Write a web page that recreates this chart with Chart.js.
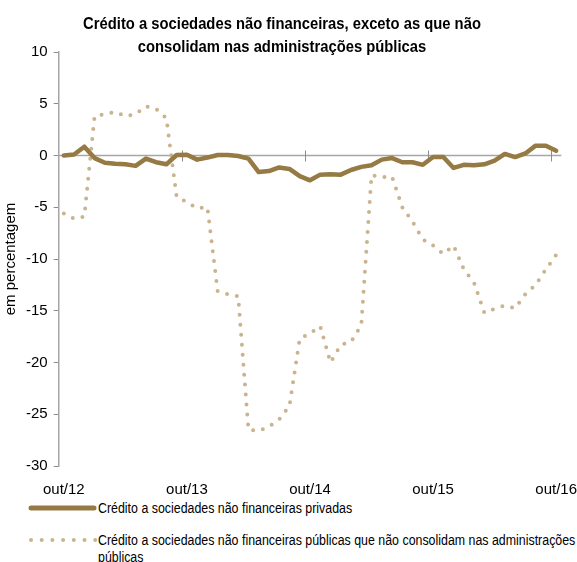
<!DOCTYPE html>
<html>
<head>
<meta charset="utf-8">
<script src="https://cdn.jsdelivr.net/npm/chart.js@4/dist/chart.umd.min.js"></script>
<style>
  html, body { margin: 0; padding: 0; background: #fff; }
  #wrap { position: relative; width: 577px; height: 562px; overflow: hidden; }
  #box { position: absolute; left: 0; top: 0; width: 577px; height: 499px; }
  #title { position: absolute; left: 0; top: 12px; width: 564px; text-align: center;
           font-family: 'Liberation Sans', Arial, sans-serif; font-weight: bold; font-size: 17px;
           line-height: 23px; color: #000; transform: scaleX(0.87); transform-origin: 282px 0; white-space: nowrap; }
  .leg { position: absolute; left: 0; width: 577px; font-family: 'Liberation Sans', Arial, sans-serif; font-size: 14px; color: #000; line-height: 17px; }
  .leg svg { position: absolute; left: 24px; }
  .leg span { position: absolute; left: 98px; white-space: nowrap; transform: scaleX(0.885); transform-origin: 0 0; }
</style>
</head>
<body>
<div id="wrap">
  <div id="box"><canvas id="c"></canvas></div>
  <div id="title"></div>
  <div class="leg" style="top:500px;">
    <svg width="76" height="12" style="top:2px;"><line x1="7" y1="6" x2="70" y2="6" stroke="#957A43" stroke-width="5" stroke-linecap="round"/></svg>
    <span id="l1" style="top:0px;"></span>
  </div>
  <div class="leg" style="top:532px;">
    <svg width="76" height="12" style="top:2px;"><line x1="7" y1="6" x2="72" y2="6" stroke="#C9B48F" stroke-width="4" stroke-linecap="round" stroke-dasharray="0 10.7"/></svg>
    <span id="l2" style="top:0px;"></span>
  </div>
</div>
<script>
const categories = [
  'out/12','nov/12','dez/12','jan/13','fev/13','mar/13','abr/13','mai/13','jun/13','jul/13','ago/13','set/13',
  'out/13','nov/13','dez/13','jan/14','fev/14','mar/14','abr/14','mai/14','jun/14','jul/14','ago/14','set/14',
  'out/14','nov/14','dez/14','jan/15','fev/15','mar/15','abr/15','mai/15','jun/15','jul/15','ago/15','set/15',
  'out/15','nov/15','dez/15','jan/16','fev/16','mar/16','abr/16','mai/16','jun/16','jul/16','ago/16','set/16',
  'out/16'
];
const tickLabels = ['out/12','out/13','out/14','out/15','out/16'];
const yTicks = [10, 5, 0, -5, -10, -15, -20, -25, -30];

const titleLines = [
  'Crédito a sociedades não financeiras, exceto as que não',
  'consolidam nas administrações públicas'
];
const seriesNames = [
  'Crédito a sociedades não financeiras privadas',
  'Crédito a sociedades não financeiras públicas que não consolidam nas administrações públicas'
];

const privadas = [
  0.0, 0.1, 0.85, -0.25, -0.7, -0.8, -0.85, -1.0, -0.3, -0.65, -0.85, 0.05,
  0.07, -0.4, -0.2, 0.05, 0.05, -0.05, -0.3, -1.6, -1.5, -1.15, -1.3, -2.0,
  -2.4, -1.85, -1.8, -1.85, -1.4, -1.1, -0.95, -0.4, -0.25, -0.65, -0.65, -0.9,
  -0.15, -0.15, -1.2, -0.9, -0.95, -0.85, -0.5, 0.15, -0.15, 0.2, 0.95, 0.95,
  0.45
];
const publicas = [
  -5.6, -6.1, -5.9, 3.8, 4.0, 4.2, 3.8, 4.0, 4.75, 4.5, 3.6, -4.0,
  -4.5, -5.1, -5.0, -13.1, -13.4, -13.6, -26.5, -26.6, -26.2, -25.5, -24.2, -17.7,
  -17.2, -16.5, -20.0, -18.3, -18.0, -16.4, -1.9, -2.1, -2.05, -5.0, -6.4, -8.1,
  -8.7, -9.5, -8.7, -11.0, -12.3, -15.2, -14.8, -14.5, -14.75, -13.4, -12.5, -11.0,
  -9.6
];

document.getElementById('title').innerHTML = titleLines.join('<br>');
document.getElementById('l1').textContent = seriesNames[0];
document.getElementById('l2').innerHTML = 'Crédito a sociedades não financeiras públicas que não consolidam nas administrações<br>públicas';

const SANS = "'Liberation Sans', Arial, sans-serif";

const zeroAxisPlugin = {
  id: 'zeroAxis',
  beforeDatasetsDraw(chart) {
    const { ctx, scales: { x, y }, chartArea } = chart;
    const y0 = y.getPixelForValue(0);
    const half = (x.getPixelForValue(1) - x.getPixelForValue(0)) / 2;
    ctx.save();
    ctx.strokeStyle = '#A6A6A6';
    ctx.lineWidth = 1.5;
    ctx.beginPath();
    ctx.moveTo(chartArea.left, y0);
    ctx.lineTo(chartArea.right, y0);
    ctx.stroke();
    ctx.lineWidth = 1;
    ctx.strokeStyle = '#8C8C8C';
    categories.forEach((c, i) => {
      if (i > 0 && tickLabels.includes(c)) {
        const px = Math.round(x.getPixelForValue(i) - half) + 0.5;
        ctx.beginPath();
        ctx.moveTo(px, y0 - 5);
        ctx.lineTo(px, y0 + 6);
        ctx.stroke();
      }
    });
    ctx.restore();
  }
};

new Chart(document.getElementById('c'), {
  type: 'line',
  data: {
    labels: categories,
    datasets: [
      {
        label: seriesNames[0],
        data: privadas,
        borderColor: '#957A43',
        borderWidth: 4.5,
        pointRadius: 0,
        tension: 0,
        borderJoinStyle: 'round',
        borderCapStyle: 'round',
        order: 1
      },
      {
        label: seriesNames[1],
        data: publicas,
        borderColor: '#C9B48F',
        borderWidth: 4,
        borderDash: [0, 10],
        borderCapStyle: 'round',
        pointRadius: 0,
        tension: 0,
        order: 2
      }
    ]
  },
  options: {
    responsive: true,
    maintainAspectRatio: false,
    animation: false,
    layout: { padding: { left: 0, right: 0, top: 52, bottom: 0 } },
    plugins: {
      legend: { display: false },
      tooltip: { enabled: false },
      title: { display: false }
    },
    scales: {
      x: {
        type: 'category',
        offset: true,
        grid: { display: false, drawTicks: true, tickLength: 15, offset: true },
        border: { display: false },
        ticks: {
          autoSkip: false,
          maxRotation: 0,
          padding: 0,
          color: '#000',
          font: { family: SANS, size: 15 },
          callback: function (v, i) {
            const l = categories[i];
            return tickLabels.includes(l) ? l : '';
          }
        }
      },
      y: {
        min: -30,
        max: 10,
        afterBuildTicks: (s) => { s.ticks = yTicks.map(v => ({ value: v })); },
        grid: { drawOnChartArea: false, drawTicks: true, tickLength: 5, color: '#8C8C8C' },
        border: { display: true, color: '#A6A6A6', width: 1.5 },
        ticks: {
          padding: 6,
          color: '#000',
          font: { family: SANS, size: 15 }
        },
        title: {
          display: true,
          text: 'em percentagem',
          color: '#000',
          font: { family: SANS, size: 15 },
          padding: { top: 2, bottom: 0 }
        }
      }
    }
  },
  plugins: [zeroAxisPlugin]
});
</script>
</body>
</html>
